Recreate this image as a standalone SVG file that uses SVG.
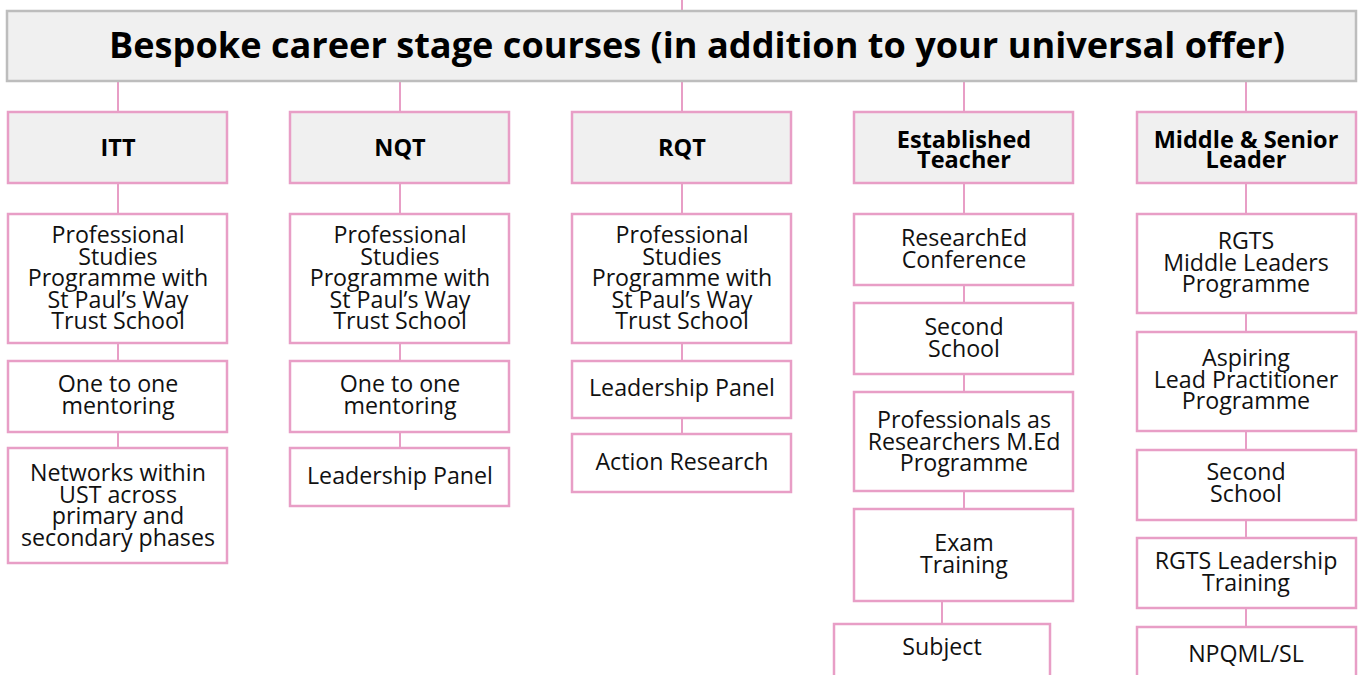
<svg xmlns="http://www.w3.org/2000/svg" width="1362" height="675" viewBox="0 0 1362 675">
<style>
.hdr{fill:#f0f0f0;stroke:#bdbdbd;stroke-width:2.5}
.cat{fill:#f0f0f0;stroke:#e89ec6;stroke-width:2.5}
.item{fill:#ffffff;stroke:#e89ec6;stroke-width:2.5}
.ln{stroke:#e89ec6;stroke-width:2;fill:none}
.t{font-family:"Open Sans","Noto Sans",sans-serif;font-size:23.2px;fill:#111;text-anchor:middle}
.c{font-family:"Open Sans","Noto Sans",sans-serif;font-size:23.5px;font-weight:bold;fill:#000;text-anchor:middle}
.h{font-family:"Open Sans","Noto Sans",sans-serif;font-size:35px;font-weight:bold;fill:#000;text-anchor:middle}
</style>
<rect width="1362" height="675" fill="#ffffff"/>
<g id="connectors">
<path class="ln" d="M682 0V11"/>
<path class="ln" d="M118 81V112M400 81V112M682 81V112M964 81V112M1246 81V112"/>
<path class="ln" d="M118 183V214M118 343V361M118 432V448"/>
<path class="ln" d="M400 183V214M400 343V361M400 432V448"/>
<path class="ln" d="M682 183V214M682 343V361M682 418V434"/>
<path class="ln" d="M964 183V214M964 285V303M964 374V392M964 491V509M942 595V624"/>
<path class="ln" d="M1246 183V214M1246 313V332M1246 431V450M1246 520V538M1246 608V627"/>
</g>
<g id="header">
<rect class="hdr" x="7" y="11" width="1349" height="70"/>
<text class="h" x="697" y="58" textLength="1176" lengthAdjust="spacingAndGlyphs">Bespoke career stage courses (in addition to your universal offer)</text>
</g>
<g id="cat-itt"><rect class="cat" x="8" y="112" width="219" height="71"/><text class="c" x="118" y="156">ITT</text></g>
<g id="cat-nqt"><rect class="cat" x="290" y="112" width="219" height="71"/><text class="c" x="400" y="156">NQT</text></g>
<g id="cat-rqt"><rect class="cat" x="572" y="112" width="219" height="71"/><text class="c" x="682" y="156">RQT</text></g>
<g id="cat-est"><rect class="cat" x="854" y="112" width="219" height="71"/><text class="c" x="964" y="148">Established<tspan x="964" dy="20">Teacher</tspan></text></g>
<g id="cat-msl"><rect class="cat" x="1137" y="112" width="219" height="71"/><text class="c" x="1246" y="148">Middle &amp; Senior<tspan x="1246" dy="20">Leader</tspan></text></g>

<g id="itt-1"><rect class="item" x="8" y="214" width="219" height="129"/><text class="t" x="118" y="243">Professional<tspan x="118" dy="21.5">Studies</tspan><tspan x="118" dy="21.5">Programme with</tspan><tspan x="118" dy="21.5">St Paul’s Way</tspan><tspan x="118" dy="21.5">Trust School</tspan></text></g>
<g id="itt-2"><rect class="item" x="8" y="361" width="219" height="71"/><text class="t" x="118" y="392">One to one<tspan x="118" dy="21.5">mentoring</tspan></text></g>
<g id="itt-3"><rect class="item" x="8" y="448" width="219" height="115"/><text class="t" x="118" y="481">Networks within<tspan x="118" dy="21.5">UST across</tspan><tspan x="118" dy="21.5">primary and</tspan><tspan x="118" dy="21.5">secondary phases</tspan></text></g>

<g id="nqt-1"><rect class="item" x="290" y="214" width="219" height="129"/><text class="t" x="400" y="243">Professional<tspan x="400" dy="21.5">Studies</tspan><tspan x="400" dy="21.5">Programme with</tspan><tspan x="400" dy="21.5">St Paul’s Way</tspan><tspan x="400" dy="21.5">Trust School</tspan></text></g>
<g id="nqt-2"><rect class="item" x="290" y="361" width="219" height="71"/><text class="t" x="400" y="392">One to one<tspan x="400" dy="21.5">mentoring</tspan></text></g>
<g id="nqt-3"><rect class="item" x="290" y="448" width="219" height="58"/><text class="t" x="400" y="484">Leadership Panel</text></g>

<g id="rqt-1"><rect class="item" x="572" y="214" width="219" height="129"/><text class="t" x="682" y="243">Professional<tspan x="682" dy="21.5">Studies</tspan><tspan x="682" dy="21.5">Programme with</tspan><tspan x="682" dy="21.5">St Paul’s Way</tspan><tspan x="682" dy="21.5">Trust School</tspan></text></g>
<g id="rqt-2"><rect class="item" x="572" y="361" width="219" height="57"/><text class="t" x="682" y="396">Leadership Panel</text></g>
<g id="rqt-3"><rect class="item" x="572" y="434" width="219" height="58"/><text class="t" x="682" y="470">Action Research</text></g>

<g id="est-1"><rect class="item" x="854" y="214" width="219" height="71"/><text class="t" x="964" y="246">ResearchEd<tspan x="964" dy="21.5">Conference</tspan></text></g>
<g id="est-2"><rect class="item" x="854" y="303" width="219" height="71"/><text class="t" x="964" y="335">Second<tspan x="964" dy="21.5">School</tspan></text></g>
<g id="est-3"><rect class="item" x="854" y="392" width="219" height="99"/><text class="t" x="964" y="428">Professionals as<tspan x="964" dy="21.5">Researchers M.Ed</tspan><tspan x="964" dy="21.5">Programme</tspan></text></g>
<g id="est-4"><rect class="item" x="854" y="509" width="219" height="92"/><text class="t" x="964" y="551">Exam<tspan x="964" dy="21.5">Training</tspan></text></g>
<g id="est-5"><rect class="item" x="834" y="624" width="216" height="60"/><text class="t" x="942" y="655">Subject</text></g>

<g id="msl-1"><rect class="item" x="1137" y="214" width="219" height="99"/><text class="t" x="1246" y="249">RGTS<tspan x="1246" dy="21.5">Middle Leaders</tspan><tspan x="1246" dy="21.5">Programme</tspan></text></g>
<g id="msl-2"><rect class="item" x="1137" y="332" width="219" height="99"/><text class="t" x="1246" y="366">Aspiring<tspan x="1246" dy="21.5">Lead Practitioner</tspan><tspan x="1246" dy="21.5">Programme</tspan></text></g>
<g id="msl-3"><rect class="item" x="1137" y="450" width="219" height="70"/><text class="t" x="1246" y="480">Second<tspan x="1246" dy="21.5">School</tspan></text></g>
<g id="msl-4"><rect class="item" x="1137" y="538" width="219" height="70"/><text class="t" x="1246" y="569">RGTS Leadership<tspan x="1246" dy="21.5">Training</tspan></text></g>
<g id="msl-5"><rect class="item" x="1137" y="627" width="219" height="60"/><text class="t" x="1246" y="662">NPQML/SL</text></g>
</svg>
